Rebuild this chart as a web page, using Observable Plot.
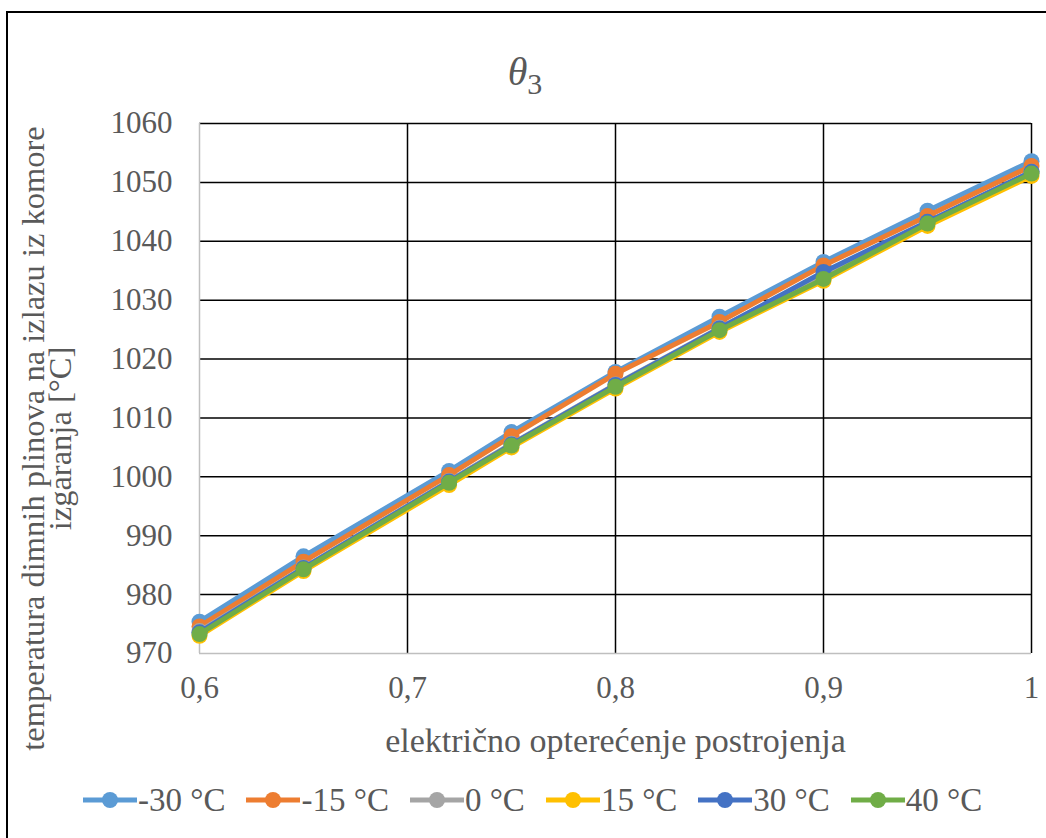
<!DOCTYPE html>
<html><head><meta charset="utf-8">
<script src="https://cdn.jsdelivr.net/npm/d3@7"></script>
<script src="https://cdn.jsdelivr.net/npm/@observablehq/plot@0.6"></script>
<style>
body{margin:0;width:1046px;height:838px;overflow:hidden;position:relative;background:#fff;font-family:"Liberation Serif",serif;color:#595959}
#frame{position:absolute;left:6px;top:11px;width:1100px;height:900px;border:2px solid #000;box-sizing:border-box}
#title{position:absolute;left:0;top:50px;width:1050px;text-align:center;font-size:40px;line-height:44px}
#title i{font-style:italic}
#title sub{font-size:30px;vertical-align:-9px;line-height:0}
#chart{position:absolute;left:0;top:100px}
#legend{position:absolute;left:83px;top:782px;display:flex;align-items:center;font-size:33px;line-height:36px;white-space:nowrap}
.item{display:flex;align-items:center;margin-right:21px}
.item svg{margin-right:1px}
</style></head>
<body>
<div id="frame"></div>
<div id="title"><i>θ</i><sub>3</sub></div>
<div id="chart"></div>
<div id="legend"></div>
<script>
const xs = [0.6, 0.65, 0.72, 0.75, 0.8, 0.85, 0.9, 0.95, 1];
const seriesNames = ["-30 °C", "-15 °C", "0 °C", "15 °C", "30 °C", "40 °C"];
const seriesColors = ["#5B9BD5", "#ED7D31", "#A5A5A5", "#FFC000", "#4472C4", "#70AD47"];
const tM30 = [975.4, 986.5, 1001.0, 1007.6, 1017.8, 1027.2, 1036.5, 1045.2, 1053.6];
const tM15 = [974.6, 985.6, 1000.3, 1006.9, 1017.5, 1026.3, 1035.9, 1044.3, 1052.8];
const t0   = [973.8, 984.6, 999.3, 1005.6, 1015.7, 1025.3, 1034.3, 1043.2, 1051.8];
const tP15 = [973.0, 984.0, 998.6, 1005.0, 1015.0, 1024.6, 1033.3, 1042.6, 1051.1];
const tP30 = [973.6, 984.5, 999.2, 1005.5, 1015.6, 1025.2, 1034.8, 1043.3, 1051.8];
const tP40 = [973.3, 984.3, 999.0, 1005.3, 1015.3, 1024.9, 1033.6, 1043.0, 1051.5];
const seriesValues = [tM30, tM15, t0, tP15, tP30, tP40];
const xTicks = [0.6, 0.7, 0.8, 0.9, 1];
const yTicks = [970, 980, 990, 1000, 1010, 1020, 1030, 1040, 1050, 1060];
const xLabel = "električno opterećenje postrojenja";
const yLabel = "temperatura dimnih plinova na izlazu iz komore\nizgaranja [°C]";

const data = seriesNames.flatMap((s, k) => xs.map((x, i) => ({x, y: seriesValues[k][i], s})));

const seriesMarks = seriesNames.flatMap((s, k) => {
  const d = data.filter(r => r.s === s);
  return [
    Plot.line(d, {x: "x", y: "y", stroke: seriesColors[k], strokeWidth: 5}),
    Plot.dot(d, {x: "x", y: "y", r: 8, fill: seriesColors[k], stroke: "none"})
  ];
});

const chart = Plot.plot({
  width: 1046,
  height: 680,
  marginLeft: 199,
  marginRight: 15,
  marginTop: 23,
  marginBottom: 127,
  style: {fontFamily: "'Liberation Serif', serif", fontSize: "31px", color: "#595959", background: "transparent", overflow: "visible"},
  x: {domain: [0.6, 1]},
  y: {domain: [970, 1060]},
  marks: [
    Plot.ruleY(yTicks.filter(v => v > 970), {stroke: "#000", strokeWidth: 1.5}),
    Plot.ruleX(xTicks.filter(v => v > 0.6), {stroke: "#000", strokeWidth: 1.5}),
    Plot.ruleY([970], {stroke: "#BFBFBF", strokeWidth: 1.5}),
    Plot.ruleX([0.6], {stroke: "#BFBFBF", strokeWidth: 1.5}),
    Plot.axisY({ticks: yTicks, tickSize: 0, tickPadding: 27, label: null, tickFormat: d => String(d)}),
    Plot.axisX({ticks: xTicks, tickSize: 0, tickPadding: 22, label: null, tickFormat: d => String(d).replace(".", ",")}),
    Plot.text([xLabel], {frameAnchor: "bottom", dy: 98, fontSize: 34, fill: "#595959"}),
    Plot.text([yLabel], {frameAnchor: "left", textAnchor: "middle", rotate: -90, dx: -151, dy: 50, fontSize: 32.5, fill: "#595959", lineHeight: 0.85}),
    ...seriesMarks
  ]
});
document.getElementById("chart").appendChild(chart);

const legend = document.getElementById("legend");
seriesNames.forEach((s, k) => {
  const item = document.createElement("div");
  item.className = "item";
  item.innerHTML = `<svg width="54" height="20"><line x1="0" y1="10" x2="54" y2="10" stroke="${seriesColors[k]}" stroke-width="5"/><circle cx="27" cy="10" r="8" fill="${seriesColors[k]}"/></svg><span>${s}</span>`;
  legend.appendChild(item);
});
</script>
</body></html>
